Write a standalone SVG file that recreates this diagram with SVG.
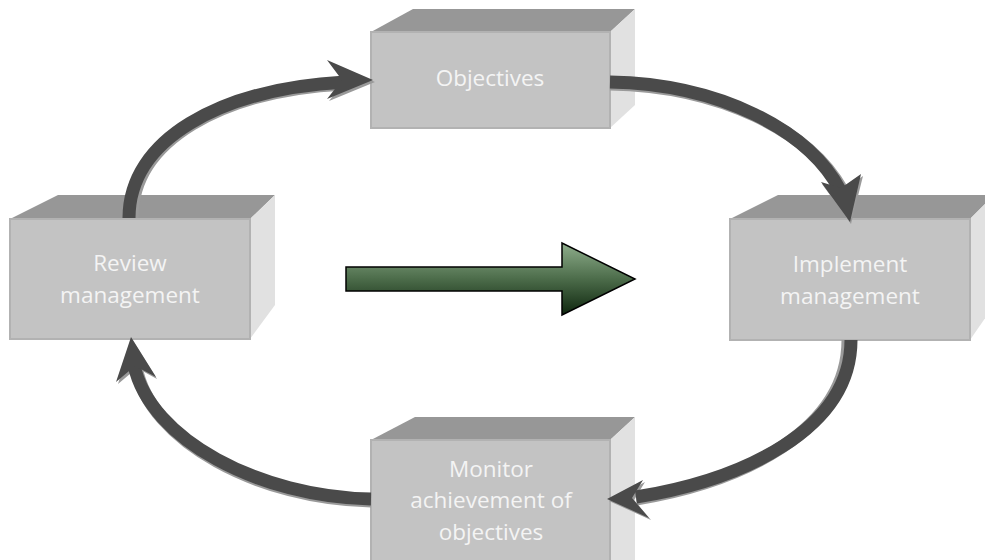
<svg xmlns="http://www.w3.org/2000/svg" width="985" height="560" viewBox="0 0 985 560">
<style>
.front{fill:#c3c3c3;stroke:#b2b2b2;stroke-width:2}
.top{fill:#979797}
.side{fill:#e1e1e1}
.lbl{font-family:"Open Sans","DejaVu Sans",sans-serif;font-size:22.5px;fill:#f4f4f4;text-anchor:middle}
.shaft{fill:none;stroke:#4a4a4a;stroke-width:13}
.shadow{fill:none;stroke:#9a9a9a;stroke-width:13}
.head{fill:#4a4a4a}
.headsh{fill:#9a9a9a}
</style>
<defs>
<linearGradient id="g" x1="0" y1="0" x2="0" y2="1">
<stop offset="0" stop-color="#8fae8c"/>
<stop offset="0.5" stop-color="#4c6c4a"/>
<stop offset="1" stop-color="#0e260e"/>
</linearGradient>
</defs>
<rect width="985" height="560" fill="#ffffff"/>

<g id="objectives">
<polygon class="top" points="371,32 413,9 635,9 610,32"/>
<polygon class="side" points="610,32 635,9 635,105 610,128"/>
<rect class="front" x="371" y="32" width="239" height="96"/>
<text class="lbl" x="490" y="86">Objectives</text>
</g>

<g id="review">
<polygon class="top" points="10,219 58,195 275,195 250,219"/>
<polygon class="side" points="250,219 275,195 275,305 250,339"/>
<rect class="front" x="10" y="219" width="240" height="120"/>
<text class="lbl" x="130" y="271">Review</text>
<text class="lbl" x="130" y="303">management</text>
</g>

<g id="implement">
<polygon class="top" points="730,219 778,195 994,195 970,219"/>
<polygon class="side" points="970,219 994,195 994,305 970,340"/>
<rect class="front" x="730" y="219" width="240" height="121"/>
<text class="lbl" x="850" y="272">Implement</text>
<text class="lbl" x="850" y="304">management</text>
</g>

<g id="monitor">
<polygon class="top" points="371,440 415,417 635,417 610,440"/>
<polygon class="side" points="610,440 635,417 635,560 610,560"/>
<rect class="front" x="371" y="440" width="239" height="125"/>
<text class="lbl" x="491" y="477">Monitor</text>
<text class="lbl" x="491" y="508">achievement of</text>
<text class="lbl" x="491" y="540">objectives</text>
</g>

<g id="connectors">
<!-- Review -> Objectives -->
<path class="shadow" d="M132,218 C132,140 222,90 345,84"/>
<polygon class="headsh" points="375,82 329,62 344,82 329,101"/>
<path class="shaft" d="M129,218 C129,140 219,89 345,82"/>
<polygon class="head" points="373,80 327,60 342,80 327,99"/>

<!-- Objectives -> Implement -->
<path class="shadow" d="M610,84 C722,86 810,132 842,190"/>
<polygon class="headsh" points="851,224 822,184 843,190 863,176"/>
<path class="shaft" d="M610,82 C720,84 808,130 840,190"/>
<polygon class="head" points="850,222 821,182 841,188 861,174"/>

<!-- Implement -> Monitor -->
<path class="shadow" d="M848,340 C848,432 740,482 636,499"/>
<polygon class="headsh" points="609,501 645,482 634,500 651,520"/>
<path class="shaft" d="M851,340 C851,430 742,480 636,497"/>
<polygon class="head" points="607,499 643,480 632,498 649,518"/>

<!-- Monitor -> Review -->
<path class="shadow" d="M371,501 C260,499 150,442 136,367"/>
<polygon class="headsh" points="132,339 157,379 137,368 118,384"/>
<path class="shaft" d="M371,499 C260,497 150,440 134,365"/>
<polygon class="head" points="131,337 156,377 135,366 116,382"/>
</g>

<g id="center-arrow">
<polygon points="346,267 562,267 562,243 635,279 562,315 562,291 346,291" fill="url(#g)" stroke="#000" stroke-width="1.5" stroke-linejoin="miter"/>
</g>
</svg>
